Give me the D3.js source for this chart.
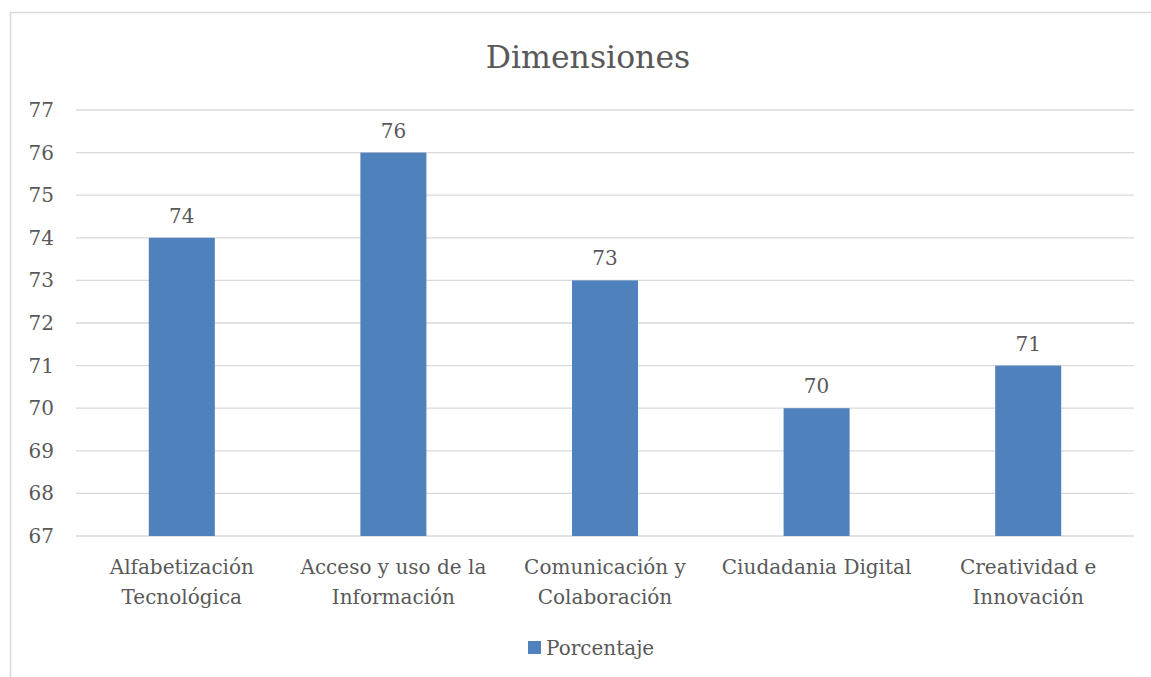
<!DOCTYPE html>
<html>
<head>
<meta charset="utf-8">
<script src="https://cdn.jsdelivr.net/npm/d3@7"></script>
<style>
  html, body { margin: 0; padding: 0; background: #fff; }
  #chart { width: 1151px; height: 677px; }
  text { font-family: "DejaVu Serif", serif; fill: #595959; }
</style>
</head>
<body>
<div id="chart"></div>
<script>
const categories = [
  ["Alfabetización", "Tecnológica"],
  ["Acceso y uso de la", "Información"],
  ["Comunicación y", "Colaboración"],
  ["Ciudadania Digital"],
  ["Creatividad e", "Innovación"]
];
const values = [74, 76, 73, 70, 71];
const yTicks = [67, 68, 69, 70, 71, 72, 73, 74, 75, 76, 77];
const seriesName = "Porcentaje";
const chartTitle = "Dimensiones";

const width = 1151, height = 677;
const margin = {top: 110, right: 17, bottom: 141, left: 76};
const innerW = width - margin.left - margin.right,
      innerH = height - margin.top - margin.bottom;

const svg = d3.select('#chart').append('svg')
  .attr('width', width)
  .attr('height', height);

// outer frame (right and bottom edges are off the picture)
svg.append('rect')
  .attr('x', 10.5).attr('y', 12.5)
  .attr('width', 1200).attr('height', 700)
  .attr('fill', 'none')
  .attr('stroke', '#d9d9d9')
  .attr('stroke-width', 1.5);

const x = d3.scaleBand()
  .domain(d3.range(categories.length))
  .range([0, innerW])
  .paddingInner(0.688)
  .paddingOuter(0.344);

const y = d3.scaleLinear()
  .domain([67, 77])
  .range([innerH, 0]);

const g = svg.append('g')
  .attr('transform', `translate(${margin.left},${margin.top})`);

// gridlines
g.selectAll('.grid')
  .data(yTicks)
  .enter().append('line')
  .attr('x1', 0).attr('x2', innerW)
  .attr('y1', d => y(d)).attr('y2', d => y(d))
  .attr('stroke', '#d9d9d9')
  .attr('stroke-width', 1.3);

// y tick labels
g.selectAll('.ytick')
  .data(yTicks)
  .enter().append('text')
  .attr('x', -22)
  .attr('y', d => y(d))
  .attr('dy', '0.35em')
  .attr('text-anchor', 'end')
  .style('font-size', '20px')
  .text(d => d);

// bars
g.selectAll('.bar')
  .data(values)
  .enter().append('rect')
  .attr('x', (d, i) => x(i))
  .attr('width', x.bandwidth())
  .attr('y', d => y(d))
  .attr('height', d => innerH - y(d))
  .attr('fill', '#4f81bd');

// value labels
g.selectAll('.val')
  .data(values)
  .enter().append('text')
  .attr('x', (d, i) => x(i) + x.bandwidth() / 2)
  .attr('y', d => y(d) - 15)
  .attr('text-anchor', 'middle')
  .style('font-size', '20px')
  .text(d => d);

// category labels
categories.forEach((lines, i) => {
  const t = g.append('text')
    .attr('text-anchor', 'middle')
    .style('font-size', '20px');
  lines.forEach((ln, j) => {
    t.append('tspan')
      .attr('x', x(i) + x.bandwidth() / 2)
      .attr('y', innerH + 38 + j * 30)
      .text(ln);
  });
});

// title
svg.append('text')
  .attr('x', 588)
  .attr('y', 68)
  .attr('text-anchor', 'middle')
  .style('font-size', '31.5px')
  .text(chartTitle);

// legend
const legend = svg.append('g').attr('transform', 'translate(528,641)');
legend.append('rect')
  .attr('width', 13).attr('height', 13)
  .attr('fill', '#4f81bd');
legend.append('text')
  .attr('x', 18).attr('y', 7)
  .attr('dy', '0.35em')
  .style('font-size', '20px')
  .text(seriesName);
</script>
</body>
</html>
